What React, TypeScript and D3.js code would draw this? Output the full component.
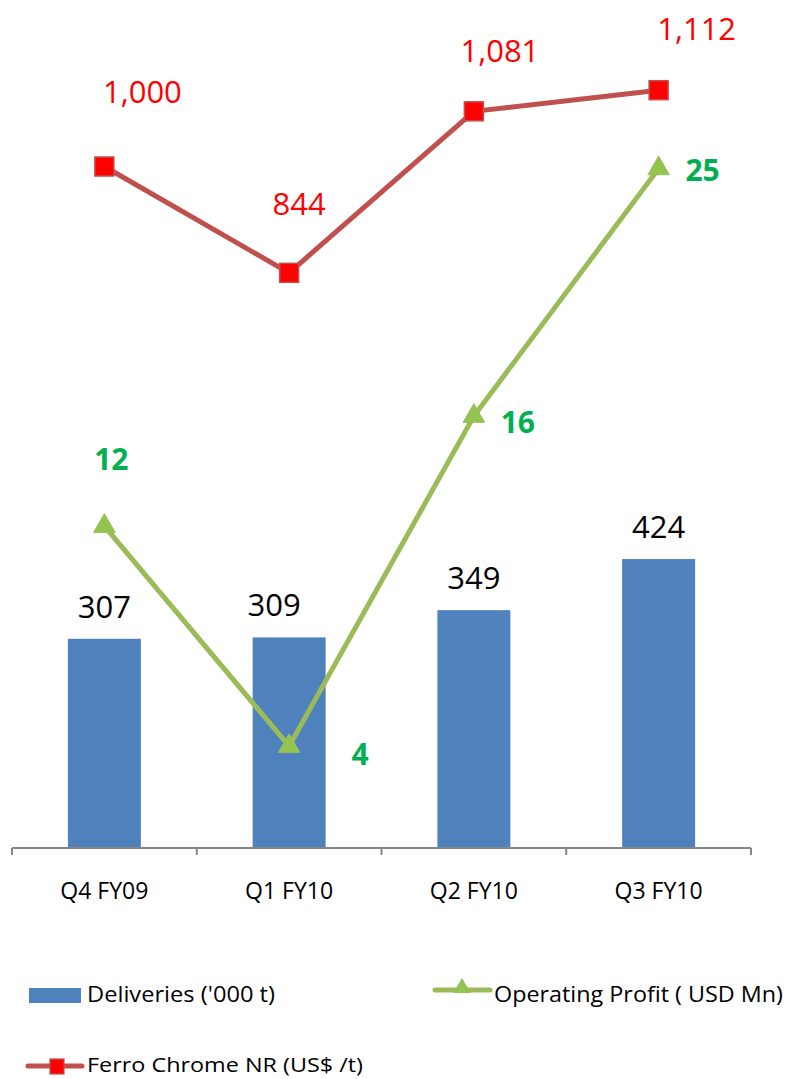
import React from "react";
import * as d3 from "d3";

const categories = ["Q4 FY09", "Q1 FY10", "Q2 FY10", "Q3 FY10"];
const deliveries = [307, 309, 349, 424];
const operatingProfit = [12, 4, 16, 25];
const ferroChrome = [1000, 844, 1081, 1112];

// label placement tweaks (layout only)
const barLabelDx = [0, -15, 0, 0];
const redLabelDx = [38, 10, 26, 38];
const redLabelDy = [-64, -58, -49, -50];
const greenLabelDx = [7, 71, 44, 44];
const greenLabelDy = [-56, 19, 17, 12];

const W = 786;
const H = 1079;
const FONT = "'Open Sans', Lato, sans-serif";

export default function App() {
  const x = d3
    .scaleBand<string>()
    .domain(categories)
    .range([12, 751])
    .paddingInner(0.605)
    .paddingOuter(0.3025);
  const y = d3.scaleLinear().domain([0, 1215]).range([848, 20]);
  const y2 = d3.scaleLinear().domain([0.3, 30.4]).range([848, 20]);
  const cx = (c: string) => (x(c) as number) + x.bandwidth() / 2;

  const redLine = d3
    .line<number>()
    .x((_, i) => cx(categories[i]))
    .y((d) => y(d));
  const greenLine = d3
    .line<number>()
    .x((_, i) => cx(categories[i]))
    .y((d) => y2(d));
  const tri = d3.symbol().type(d3.symbolTriangle).size(200)();

  const step = x.step();
  const boundaries = d3.range(categories.length + 1).map((i) => 12 + i * step);

  return (
    <svg width={W} height={H} style={{ position: "absolute", left: 0, top: 0 }}>
      <rect width={W} height={H} fill="#fff" />
      {deliveries.map((d, i) => (
        <rect
          key={i}
          x={x(categories[i])}
          y={y(d)}
          width={x.bandwidth()}
          height={y(0) - y(d)}
          fill="#4f81bd"
        />
      ))}
      {/* axis */}
      <line x1={12} x2={751} y1={848} y2={848} stroke="#868686" strokeWidth={2} />
      {boundaries.map((b, i) => (
        <line key={i} x1={b} x2={b} y1={848} y2={855} stroke="#868686" strokeWidth={2} />
      ))}
      {categories.map((c) => (
        <text key={c} x={cx(c)} y={899} textAnchor="middle" fontFamily={FONT} fontSize={23} fill="#000">
          {c}
        </text>
      ))}
      {/* bar labels */}
      {deliveries.map((d, i) => (
        <text key={i} x={cx(categories[i]) + barLabelDx[i]} y={y(d) - 21} textAnchor="middle" fontFamily={FONT} fontSize={31} fill="#000">
          {d3.format(",")(d)}
        </text>
      ))}
      {/* red line */}
      <path d={redLine(ferroChrome) || ""} fill="none" stroke="#c0504d" strokeWidth={5} />
      {ferroChrome.map((d, i) => (
        <rect
          key={i}
          x={cx(categories[i]) - 9.5}
          y={y(d) - 9.5}
          width={19}
          height={19}
          fill="#ff0000"
          stroke="#c0504d"
          strokeWidth={1.5}
        />
      ))}
      {ferroChrome.map((d, i) => (
        <text
          key={i}
          x={cx(categories[i]) + redLabelDx[i]}
          y={y(d) + redLabelDy[i]}
          textAnchor="middle"
          fontFamily={FONT}
          fontSize={31}
          fill="#ff0000"
        >
          {d3.format(",")(d)}
        </text>
      ))}
      {/* green line */}
      <path d={greenLine(operatingProfit) || ""} fill="none" stroke="#9bbb59" strokeWidth={5} />
      {operatingProfit.map((d, i) => (
        <path
          key={i}
          d={tri || ""}
          transform={`translate(${cx(categories[i])},${y2(d)})`}
          fill="#92c54f"
          stroke="#9bbb59"
          strokeWidth={1}
        />
      ))}
      {operatingProfit.map((d, i) => (
        <text
          key={i}
          x={cx(categories[i]) + greenLabelDx[i]}
          y={y2(d) + greenLabelDy[i]}
          textAnchor="middle"
          fontFamily={FONT}
          fontWeight="bold"
          fontSize={30}
          fill="#00b050"
        >
          {d}
        </text>
      ))}
      {/* legend */}
      <rect x={29} y={988} width={52} height={15} fill="#4f81bd" />
      <text x={87} y={1002} fontFamily={FONT} fontSize={21} fill="#000" textLength={188} lengthAdjust="spacingAndGlyphs">
        Deliveries ('000 t)
      </text>
      <line x1={435} x2={490} y1={990} y2={990} stroke="#9bbb59" strokeWidth={5} strokeLinecap="round" />
      <path d={d3.symbol().type(d3.symbolTriangle).size(110)() || ""} transform="translate(462,988)" fill="#92c54f" stroke="#9bbb59" />
      <text x={494} y={1002} fontFamily={FONT} fontSize={21} fill="#000" textLength={289} lengthAdjust="spacingAndGlyphs">
        Operating Profit ( USD Mn)
      </text>
      <line x1={28} x2={82} y1={1066} y2={1066} stroke="#c0504d" strokeWidth={5} strokeLinecap="round" />
      <rect x={50} y={1059} width={14} height={15} fill="#ff0000" stroke="#c0504d" strokeWidth={1.2} />
      <text x={87} y={1072} fontFamily={FONT} fontSize={20} fill="#000" textLength={276} lengthAdjust="spacingAndGlyphs">
        Ferro Chrome NR (US$ /t)
      </text>
    </svg>
  );
}
